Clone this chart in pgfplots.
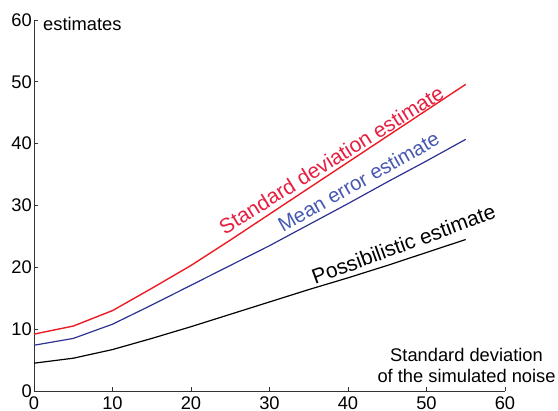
\documentclass[border=0pt]{standalone}
\usepackage{fontspec}
\setmainfont{Liberation Sans}
\usepackage{pgfplots}
\pgfplotsset{compat=1.18}
\definecolor{redl}{RGB}{237,28,36}
\definecolor{redt}{RGB}{232,30,64}
\definecolor{bluel}{RGB}{46,49,146}
\definecolor{bluet}{RGB}{70,88,178}
\begin{document}
\fontsize{18.3}{21}\selectfont
\begin{tikzpicture}
\begin{axis}[
  scale only axis, width=471pt, height=371pt,
  xmin=0, xmax=60, ymin=0, ymax=60,
  axis x line*=bottom, axis y line*=left,
  axis line style={-, line width=0.9pt, black!80},
  tick align=inside, major tick length=4pt,
  tick style={line width=0.8pt, black!80},
  xtick={0,10,...,60}, ytick={0,10,...,60},
  /pgf/number format/assume math mode=true,
  tick label style={font=\fontsize{18.3}{21}\selectfont},
  yticklabel style={inner sep=2pt},
  xticklabel style={yshift=1pt},
  clip=false,
]
\addplot[redl, line width=1.4pt] coordinates {
(0,9.2) (5,10.5) (10,13.0) (15,16.6) (20,20.3) (25,24.4) (30,28.6) (35,32.8) (40,37.0) (45,41.2) (50,45.4) (55,49.6)};
\addplot[bluel, line width=1.2pt] coordinates {
(0,7.4) (5,8.5) (10,10.8) (15,13.9) (20,17.1) (25,20.3) (30,23.5) (35,26.9) (40,30.3) (45,33.8) (50,37.2) (55,40.7)};
\addplot[black, line width=1.2pt] coordinates {
(0,4.5) (5,5.3) (10,6.7) (15,8.5) (20,10.4) (25,12.4) (30,14.4) (35,16.4) (40,18.3) (45,20.3) (50,22.4) (55,24.5)};
\coordinate (O) at (axis cs:0,0);
\node[redt, anchor=base west, rotate=32, inner sep=0pt, font=\fontsize{21}{24}\selectfont] at (axis cs:24.3,25.2) {Standard deviation estimate};
\node[bluet, anchor=base west, rotate=29.5, inner sep=0pt, font=\fontsize{20.3}{24}\selectfont] at (axis cs:31.7,25.6) {Mean error estimate};
\node[black, anchor=base west, rotate=20.2, inner sep=0pt, font=\fontsize{21}{24}\selectfont] at (axis cs:35.8,17.2) {Possibilistic estimate};
\node[anchor=base west, inner sep=0pt] at (axis cs:1.15,58.3) {estimates};
\node[anchor=base, inner sep=0pt] at (axis cs:55.1,4.7) {Standard deviation};
\node[anchor=base, inner sep=0pt] at (axis cs:55.1,1.3) {of the simulated noise};
\end{axis}
\pgfresetboundingbox
\path[use as bounding box] (O) ++(-34pt,-20pt) rectangle ++(558pt,411pt);
\end{tikzpicture}
\end{document}
